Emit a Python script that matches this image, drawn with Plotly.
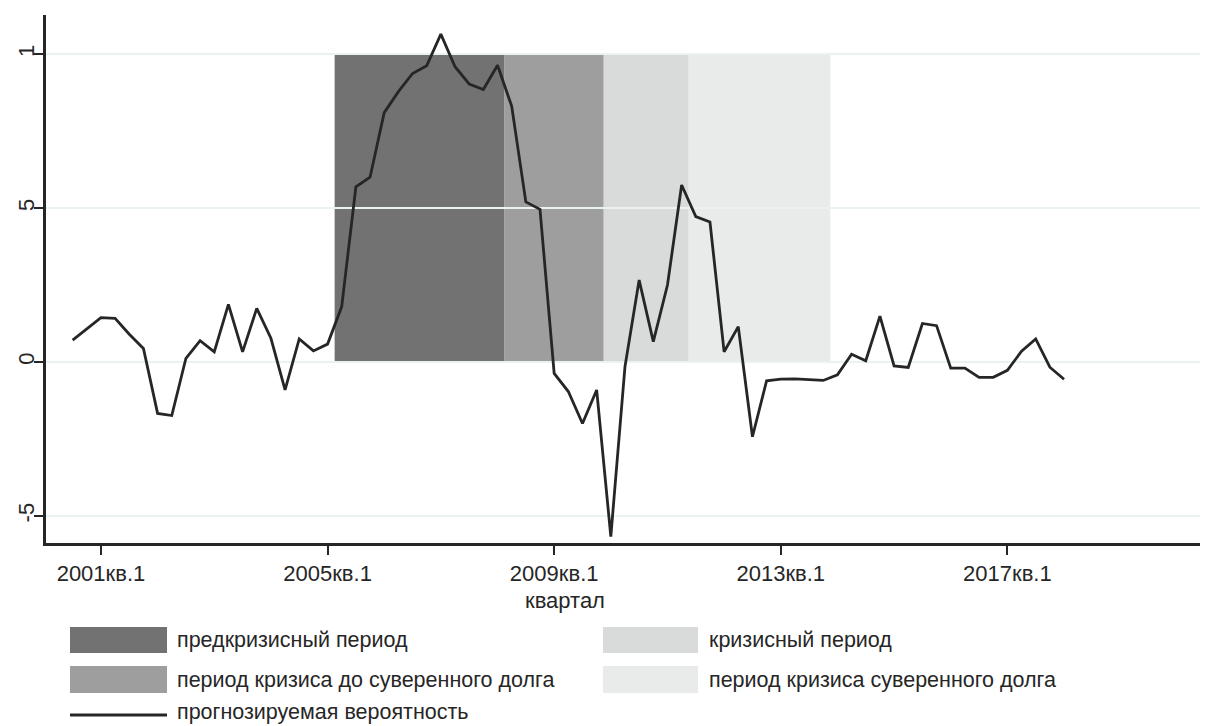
import plotly.graph_objects as go

# ---- data ----
start_quarter = (2000, 3)  # first observation: 2000 кв.3
probability = [
    0.071, 0.107,                                   # 2000q3-q4
    0.144, 0.142, 0.090, 0.044,                     # 2001
    -0.167, -0.174, 0.012, 0.069,                   # 2002
    0.033, 0.187, 0.033, 0.174,                     # 2003
    0.077, -0.091, 0.075, 0.036,                    # 2004
    0.058, 0.180, 0.569, 0.600,                     # 2005
    0.810, 0.878, 0.937, 0.962,                     # 2006
    1.065, 0.959, 0.903, 0.885,                     # 2007
    0.964, 0.831, 0.520, 0.496,                     # 2008
    -0.037, -0.096, -0.200, -0.091,                 # 2009
    -0.567, -0.015, 0.266, 0.066,                   # 2010
    0.250, 0.575, 0.472, 0.455,                     # 2011
    0.033, 0.115, -0.243, -0.061,                   # 2012
    -0.056, -0.055, -0.058, -0.060,                 # 2013
    -0.042, 0.025, 0.004, 0.149,                    # 2014
    -0.013, -0.018, 0.125, 0.118,                   # 2015
    -0.020, -0.020, -0.050, -0.050,                 # 2016
    -0.027, 0.035, 0.075, -0.017,                   # 2017
    -0.056,                                         # 2018q1
]

period_names = [
    "предкризисный период",
    "период кризиса до суверенного долга",
    "кризисный период",
    "период кризиса суверенного долга",
]
period_start = [(2005, 2), (2008, 2), (2010, 1), (2011, 3)]
period_end = [(2008, 1), (2009, 4), (2011, 2), (2013, 4)]
period_colors = ["#727272", "#9d9e9d", "#d9dada", "#e9ebeb"]

tick_quarters = [(2001, 1), (2005, 1), (2009, 1), (2013, 1), (2017, 1)]
tick_labels = ["2001кв.1", "2005кв.1", "2009кв.1", "2013кв.1", "2017кв.1"]

y_ticks = [-0.5, 0, 0.5, 1]
y_tick_labels = ["-5", "0", "5", "1"]

line_name = "прогнозируемая вероятность"
x_title = "квартал"


def qidx(yq):
    y, q = yq
    return (y - 2001) * 4 + (q - 1)


x0 = qidx(start_quarter)
x_vals = [x0 + i for i in range(len(probability))]

X_RANGE = [-3.88, 77.6]
Y_RANGE = [-0.588, 1.127]

FONT = "Liberation Sans, Arial, sans-serif"
TXT = "#262626"
TICK_SIZE = 22
LEG_SIZE = 21.5

fig = go.Figure()

# shaded periods (bars from 0 to 1)
for name, s, e, c in zip(period_names, period_start, period_end, period_colors):
    a, b = qidx(s), qidx(e)
    fig.add_trace(go.Bar(
        x=[(a + b) / 2], y=[1], width=[b - a + 1], base=0,
        marker=dict(color=c, line=dict(width=0)),
        name=name, showlegend=False, hoverinfo="skip",
    ))

# gridlines drawn over the shaded bars
gx, gy = [], []
for t in y_ticks:
    gx += [X_RANGE[0], X_RANGE[1], None]
    gy += [t, t, None]
fig.add_trace(go.Scatter(
    x=gx, y=gy, mode="lines", line=dict(color="#eaf2f3", width=2),
    showlegend=False, hoverinfo="skip",
))

# forecast probability line
fig.add_trace(go.Scatter(
    x=x_vals, y=probability, mode="lines",
    line=dict(color="#262626", width=2.8),
    name=line_name, showlegend=False,
))

# ---- layout geometry (page has an 8px body margin) ----
OFF = 8
PAGE_W, PAGE_H = 1208, 726
PL, PR, PT, PB = 46, 1200, 15, 543   # plot area in page pixels
W, H = PAGE_W - 2 * OFF, PAGE_H - OFF
ML, MT = PL - OFF, PT - OFF
MR, MB = (OFF + W) - PR, (OFF + H) - PB
pw, ph = PR - PL, PB - PT


def px_x(p):
    return (p - PL) / pw


def px_y(p):
    return (PB - p) / ph


legend_pos = [(70, 167, 175, 627, 653), (70, 167, 175, 666, 693),
              (603, 698, 707, 627, 653), (603, 698, 707, 666, 693)]
for (xa, xb, xt, ya, yb), name, c in zip(legend_pos, period_names, period_colors):
    fig.add_shape(type="rect", xref="paper", yref="paper",
                  x0=px_x(xa), x1=px_x(xb), y0=px_y(yb), y1=px_y(ya),
                  fillcolor=c, line=dict(width=0))
    fig.add_annotation(xref="paper", yref="paper", x=px_x(xt), y=px_y((ya + yb) / 2),
                       text=name, showarrow=False, xanchor="left", yanchor="middle",
                       font=dict(family=FONT, size=LEG_SIZE, color=TXT))
fig.add_shape(type="line", xref="paper", yref="paper",
              x0=px_x(70), x1=px_x(167), y0=px_y(715), y1=px_y(715),
              line=dict(color="#262626", width=3))
fig.add_annotation(xref="paper", yref="paper", x=px_x(175), y=px_y(712),
                   text=line_name, showarrow=False, xanchor="left", yanchor="middle",
                   font=dict(family=FONT, size=LEG_SIZE, color=TXT))

# x-axis title
fig.add_annotation(xref="paper", yref="paper", x=px_x(565), y=px_y(600),
                   text=x_title, showarrow=False, xanchor="center", yanchor="middle",
                   font=dict(family=FONT, size=TICK_SIZE, color=TXT))

fig.update_layout(
    width=W, height=H,
    margin=dict(l=ML, r=MR, t=MT, b=MB, pad=0),
    paper_bgcolor="white", plot_bgcolor="white",
    barmode="overlay",
    showlegend=False,
    font=dict(family=FONT, size=TICK_SIZE, color=TXT),
    xaxis=dict(
        range=X_RANGE, tickvals=[qidx(t) for t in tick_quarters], ticktext=tick_labels,
        showgrid=False, zeroline=False, showline=True, linecolor="#262626", linewidth=3,
        ticks="outside", ticklen=9, tickwidth=2, tickcolor="#262626",
        tickfont=dict(family=FONT, size=TICK_SIZE, color=TXT),
    ),
    yaxis=dict(
        range=Y_RANGE, tickvals=y_ticks, ticktext=y_tick_labels, tickangle=-90,
        showgrid=False, zeroline=False, showline=True, linecolor="#262626", linewidth=3,
        ticks="outside", ticklen=9, tickwidth=2, tickcolor="#262626",
        ticklabelstandoff=-9,
        tickfont=dict(family=FONT, size=TICK_SIZE, color=TXT),
    ),
)

fig.write_html("out.html")
